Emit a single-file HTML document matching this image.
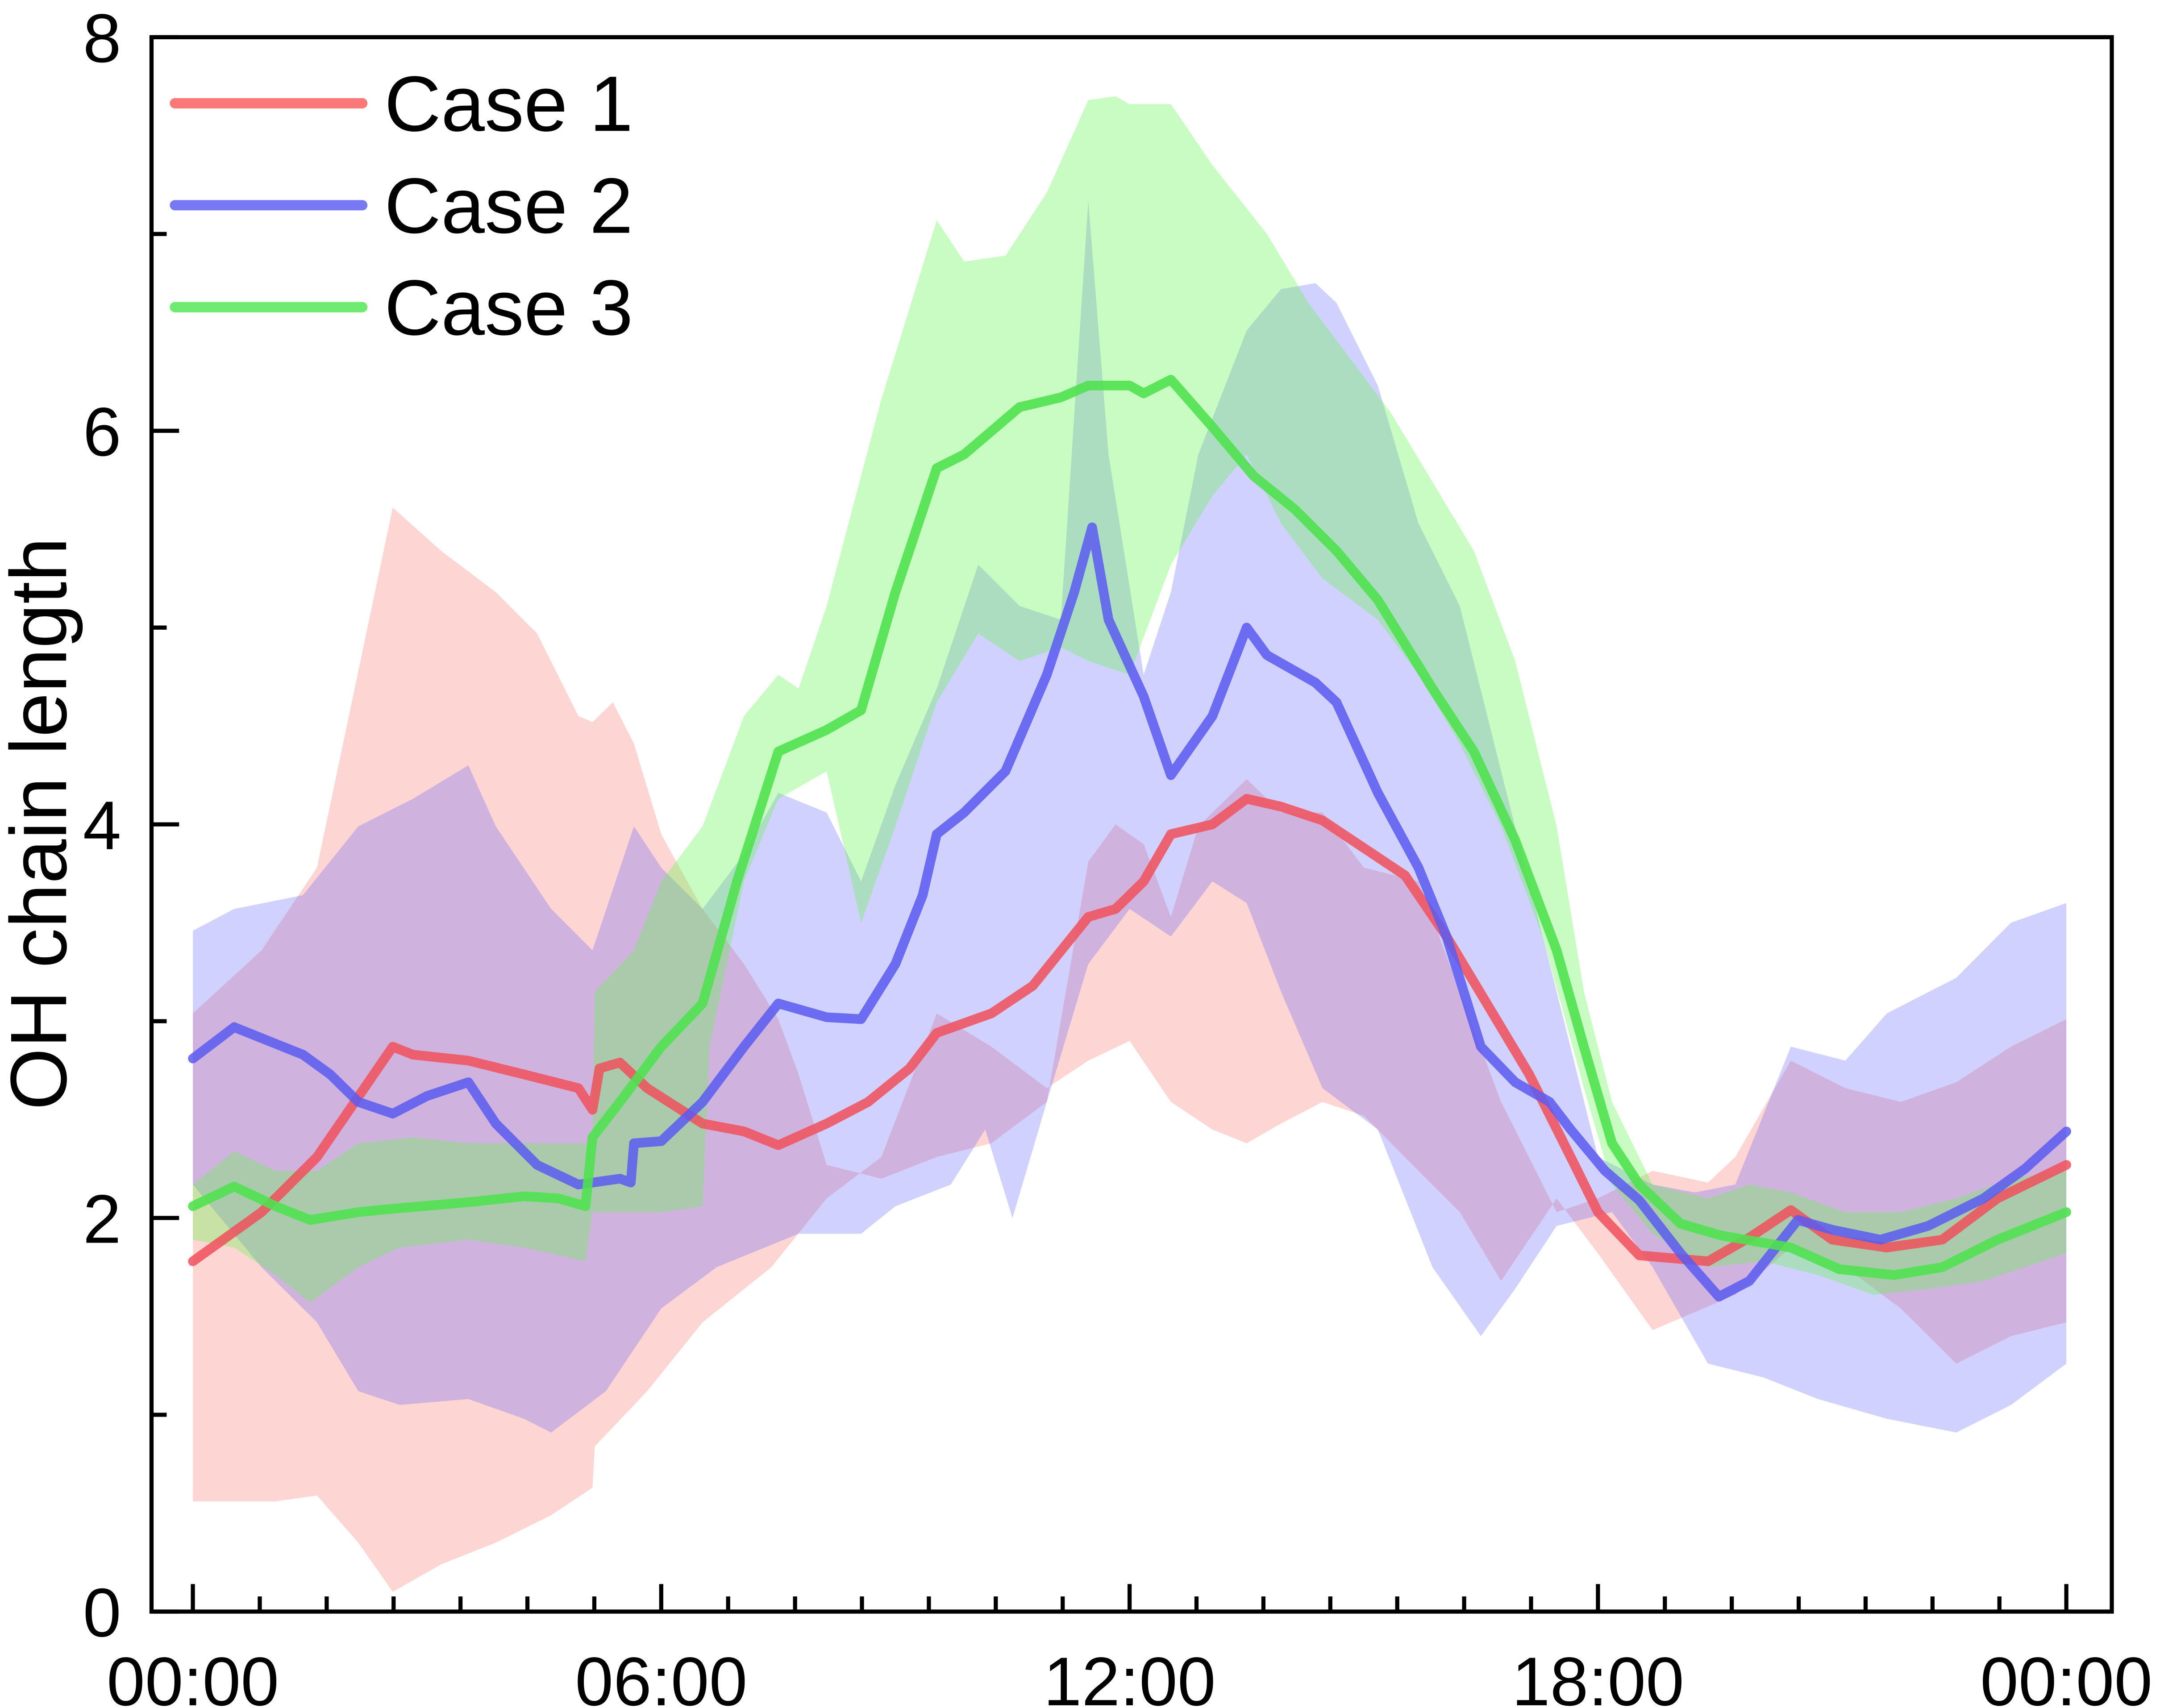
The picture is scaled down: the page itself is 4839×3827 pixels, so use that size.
<!DOCTYPE html>
<html><head><meta charset="utf-8"><style>
html,body{margin:0;padding:0;background:#fff;}
svg{display:block;font-family:"Liberation Sans",Arial,sans-serif;}
</style></head><body>
<svg id="chart" width="4839" height="3827" viewBox="0 0 1568 1240" preserveAspectRatio="none" xmlns="http://www.w3.org/2000/svg">
<g id="bands"></g>
<g id="lines"></g>
<g id="axes"></g>
<g id="legend"></g>
</svg>
<script>
// ---- data (hours of day, OH chain length) ----
const xTickLabels = ["00:00","06:00","12:00","18:00","00:00"];
const xTickHours = [0,6,12,18,24];
const yTickLabels = ["0","2","4","6","8"];
const yTickValues = [0,2,4,6,8];
const seriesNames = ["Case 1","Case 2","Case 3"];

const c1Hours = [0,0.88,1.59,2.56,2.82,3.53,4.24,4.94,5.12,5.21,5.47,5.82,6.53,7.06,7.5,8.12,8.65,9.18,9.53,10.23,10.76,11.47,11.82,12.18,12.53,13.06,13.5,13.94,14.47,15.0,15.53,16.06,16.59,17.12,17.65,18.0,18.53,19.41,19.94,20.47,21.0,21.7,22.41,23.12,24];
const c1Values = [1.78,2.03,2.31,2.87,2.83,2.80,2.73,2.66,2.55,2.76,2.79,2.66,2.48,2.44,2.37,2.48,2.59,2.76,2.94,3.04,3.18,3.53,3.57,3.71,3.95,4.0,4.13,4.09,4.02,3.88,3.74,3.43,3.08,2.73,2.31,2.03,1.81,1.78,1.90,2.04,1.89,1.85,1.89,2.10,2.27];
const c1UpHours = [0,0.88,1.59,2.56,3.18,3.88,4.41,4.94,5.12,5.38,5.65,6.0,6.53,7.06,7.5,7.76,8.12,8.82,9.53,10.23,10.94,11.47,11.82,12.18,12.53,12.88,13.5,13.94,14.47,15.0,15.7,16.23,16.76,17.47,18.0,18.7,19.41,19.76,20.47,21.17,21.88,22.59,23.29,24];
const c1Up = [3.04,3.36,3.78,5.61,5.39,5.18,4.97,4.55,4.52,4.62,4.41,3.95,3.57,3.29,3.01,2.73,2.27,2.2,2.31,2.38,2.59,3.81,4.0,3.9,3.53,3.99,4.23,4.06,4.06,3.78,3.71,3.15,2.59,2.03,2.1,2.24,2.18,2.31,2.8,2.66,2.59,2.69,2.87,3.01];
const c1LoHours = [0,1.06,1.59,2.12,2.56,3.18,3.88,4.59,5.12,5.15,5.82,6.53,7.41,8.12,8.82,9.53,10.23,10.94,11.47,12.0,12.53,13.06,13.5,13.94,14.47,15.0,15.7,16.23,16.76,17.47,18.0,18.7,19.76,20.47,21.17,21.88,22.59,23.29,24];
const c1Lo = [0.56,0.56,0.59,0.35,0.1,0.24,0.35,0.49,0.63,0.84,1.12,1.47,1.75,2.1,2.31,3.04,2.87,2.66,2.8,2.9,2.59,2.45,2.38,2.48,2.59,2.52,2.24,2.03,1.68,2.1,1.82,1.43,1.61,1.85,1.75,1.54,1.26,1.4,1.47];

const c2Hours = [0,0.53,1.41,1.76,2.12,2.56,3.0,3.53,3.88,4.41,4.94,5.47,5.61,5.65,6.0,6.53,7.06,7.5,8.12,8.56,9.0,9.35,9.53,9.88,10.41,10.94,11.29,11.52,11.73,12.18,12.53,13.06,13.5,13.76,14.38,14.65,15.18,15.7,16.06,16.5,16.94,17.38,17.65,18.09,18.53,19.06,19.55,19.94,20.56,21.0,21.62,22.23,22.94,23.47,24];
const c2Values = [2.81,2.97,2.83,2.73,2.59,2.53,2.62,2.69,2.48,2.27,2.17,2.2,2.18,2.38,2.39,2.59,2.87,3.09,3.02,3.01,3.29,3.64,3.95,4.06,4.27,4.76,5.18,5.51,5.04,4.65,4.25,4.55,5.0,4.86,4.72,4.62,4.16,3.78,3.43,2.87,2.69,2.59,2.45,2.24,2.09,1.82,1.6,1.68,1.99,1.94,1.89,1.96,2.10,2.25,2.44];
const c2UpHours = [0,0.53,1.41,2.12,2.82,3.53,3.88,4.59,5.12,5.65,6.0,6.53,7.06,7.5,8.12,8.56,9.0,9.53,10.06,10.59,11.12,11.47,11.73,12.18,12.53,12.88,13.5,13.94,14.38,14.65,15.18,15.7,16.23,16.76,17.47,18.0,18.7,19.24,19.76,20.47,21.17,21.7,22.59,23.29,24];
const c2Up = [3.46,3.57,3.64,3.99,4.13,4.3,3.99,3.57,3.36,3.99,3.78,3.57,3.85,4.16,4.06,3.71,4.2,4.69,5.32,5.11,5.04,7.17,5.88,4.76,5.18,5.88,6.51,6.72,6.75,6.65,6.23,5.53,5.11,4.27,3.15,2.31,2.17,2.13,2.17,2.87,2.8,3.04,3.22,3.5,3.6];
const c2LoHours = [0,0.88,1.59,2.12,2.65,3.53,4.24,4.59,5.29,6.0,6.71,7.76,8.56,9.0,9.71,10.15,10.5,10.94,11.47,12.0,12.53,13.06,13.5,13.94,14.47,15.18,15.88,16.5,16.94,17.47,18.18,18.7,19.41,20.12,20.82,21.7,22.59,23.29,24];
const c2Lo = [2.17,1.75,1.47,1.12,1.05,1.08,0.98,0.91,1.12,1.54,1.75,1.92,1.92,2.06,2.17,2.45,2.0,2.59,3.29,3.57,3.43,3.71,3.6,3.15,2.66,2.45,1.75,1.4,1.64,1.96,2.03,1.75,1.26,1.19,1.08,0.98,0.91,1.05,1.26];

const c3Hours = [0,0.53,1.06,1.5,2.12,2.65,3.53,4.24,4.68,5.03,5.12,5.47,6.0,6.53,6.97,7.5,8.12,8.56,9.0,9.53,9.88,10.59,11.12,11.47,12.0,12.18,12.53,13.06,13.59,14.12,14.65,15.18,15.88,16.41,16.94,17.47,17.82,18.18,18.53,19.06,19.59,20.47,21.09,21.79,22.41,23.12,24];
const c3Values = [2.06,2.16,2.06,1.99,2.03,2.05,2.08,2.11,2.10,2.06,2.41,2.59,2.87,3.09,3.71,4.37,4.48,4.58,5.18,5.81,5.88,6.12,6.17,6.23,6.23,6.19,6.26,6.02,5.77,5.6,5.39,5.14,4.69,4.37,3.92,3.36,2.87,2.38,2.17,1.97,1.91,1.85,1.74,1.71,1.75,1.89,2.03];
const c3UpHours = [0,0.53,1.06,1.59,2.12,2.82,3.53,4.24,5.12,5.15,5.65,6.0,6.53,7.06,7.5,7.76,8.12,8.82,9.53,9.88,10.41,10.94,11.47,11.82,12.0,12.53,13.06,13.76,14.29,14.82,15.35,15.88,16.41,16.94,17.47,17.82,18.18,18.7,19.41,19.94,20.47,21.17,21.88,22.59,23.29,24];
const c3Up = [2.17,2.34,2.24,2.24,2.38,2.41,2.38,2.38,2.38,3.15,3.36,3.71,3.99,4.55,4.76,4.69,5.11,6.16,7.07,6.86,6.89,7.21,7.68,7.7,7.66,7.66,7.35,7.0,6.65,6.37,6.09,5.74,5.39,4.83,3.99,3.15,2.59,2.17,2.1,2.17,2.13,2.03,2.03,2.1,2.2,2.24];
const c3LoHours = [0,0.53,1.06,1.5,2.12,2.65,3.53,4.24,5.03,5.12,6.0,6.53,6.62,7.06,7.5,8.12,8.56,9.0,9.53,10.06,10.59,11.12,11.47,12.0,12.53,13.06,13.5,13.94,14.47,15.18,15.7,16.23,16.76,17.29,17.82,18.18,18.7,19.41,20.12,20.82,21.53,22.23,22.94,24];
const c3Lo = [1.89,1.85,1.71,1.57,1.75,1.85,1.89,1.85,1.78,2.03,2.03,2.06,2.87,3.71,4.13,4.27,3.5,3.99,4.62,4.97,4.83,4.9,4.83,4.76,5.32,5.67,5.88,5.53,5.25,5.04,4.76,4.41,3.99,3.43,2.66,2.17,1.92,1.75,1.78,1.71,1.61,1.64,1.68,1.82];

// ---- axis functions ----
const X0=140, X1=1500, Y0=1170, Y1=27;
const xS = h => X0 + (X1-X0)*h/24;
const yS = v => Y0 - (Y0-Y1)*v/8;
const NS="http://www.w3.org/2000/svg";
function mk(tag, attrs, parent){const e=document.createElementNS(NS,tag);for(const k in attrs)e.setAttribute(k,attrs[k]);parent.appendChild(e);return e;}
const pts=(hs,vs)=>hs.map((h,i)=>xS(h).toFixed(1)+","+yS(vs[i]).toFixed(1));

const bandsG=document.getElementById('bands'), linesG=document.getElementById('lines'), axesG=document.getElementById('axes'), legG=document.getElementById('legend');
const bandDefs=[[c1UpHours,c1Up,c1LoHours,c1Lo,"rgba(250,120,110,0.30)"],[c2UpHours,c2Up,c2LoHours,c2Lo,"rgba(90,90,250,0.28)"],[c3UpHours,c3Up,c3LoHours,c3Lo,"rgba(100,245,80,0.35)"]];
const lineDefs=[[c1Hours,c1Values,"rgba(240,80,90,0.85)"],[c2Hours,c2Values,"rgba(90,90,240,0.85)"],[c3Hours,c3Values,"rgba(80,225,80,0.9)"]];
bandDefs.forEach((b,i)=>{
  const p=pts(b[0],b[1]).concat(pts(b[2].slice().reverse(),b[3].slice().reverse()));
  const el=mk('polygon',{points:p.join(" "),fill:b[4]},bandsG);
  
  
});
lineDefs.forEach((l,i)=>{
  const el=mk('polyline',{points:pts(l[0],l[1]).join(" "),fill:"none",stroke:l[2],"stroke-width":7,"stroke-linejoin":"round","stroke-linecap":"round"},linesG);
  
  
});
// frame
const fr=mk('rect',{x:110,y:27,width:1423,height:1143,fill:"none",stroke:"#000","stroke-width":3},axesG);


// y ticks
for(let v=0;v<=8;v++){
  const major=v%2===0;
  mk('line',{x1:110,x2:110+(major?20:11),y1:yS(v),y2:yS(v),stroke:"#000","stroke-width":3},axesG);
}
yTickValues.forEach((v,i)=>{
  const t=mk('text',{x:88,y:yS(v)+18,"text-anchor":"end","font-size":50},axesG);
  t.textContent=yTickLabels[i];
  
  
});
// x ticks: majors every 6h, 7 minors per interval
for(let k=0;k<=28;k++){
  const h=k*6/7, major=k%7===0;
  mk('line',{x1:xS(h),x2:xS(h),y1:1170,y2:1170-(major?20:11),stroke:"#000","stroke-width":3},axesG);
}
xTickHours.forEach((h,i)=>{
  const t=mk('text',{x:xS(h),y:1238,"text-anchor":"middle","font-size":50},axesG);
  t.textContent=xTickLabels[i];
  
  
});
const yt=mk('text',{x:0,y:0,"text-anchor":"middle","font-size":58,transform:"translate(48,598) rotate(-90)"},axesG);
yt.textContent="OH chain length";


// legend
const legColors=["rgba(250,120,120,1)","rgba(120,120,245,1)","rgba(110,235,110,1)"];
seriesNames.forEach((n,i)=>{
  const y=75+i*74;
  const ln=mk('line',{x1:127,x2:263,y1:y,y2:y,stroke:legColors[i],"stroke-width":7.5,"stroke-linecap":"round"},legG);
  
  
  const t=mk('text',{x:279,y:y+20,"font-size":57},legG);
  t.textContent=n;
  
  
});
</script>
</body></html>
